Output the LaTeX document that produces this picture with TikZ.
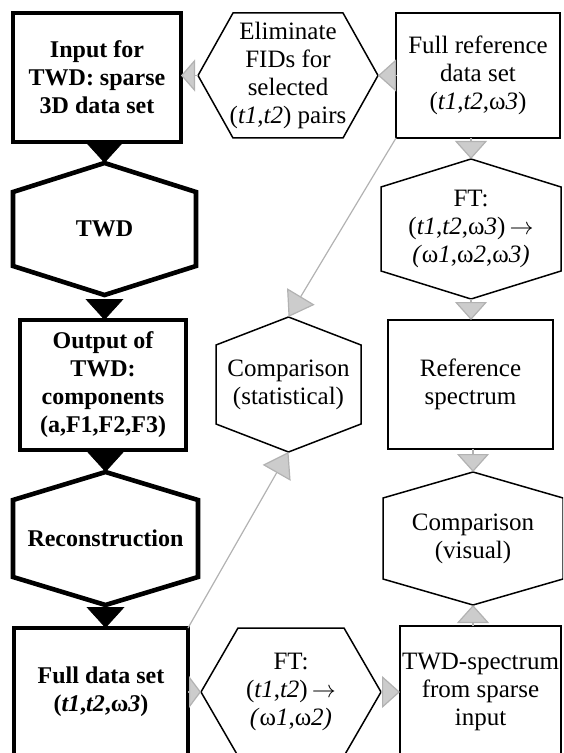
\documentclass[tikz,border=0pt]{standalone}
\usepackage{fontspec}
\setmainfont{Liberation Serif}
\usetikzlibrary{arrows.meta}

\newcommand{\vhex}[3][0.75pt]{\draw[line width=#1] (#2.north) -- ([yshift=-#3]#2.north east) -- ([yshift=#3]#2.south east)
  -- (#2.south) -- ([yshift=#3]#2.south west) -- ([yshift=-#3]#2.north west) -- cycle;}
\newcommand{\hhex}[3][0.75pt]{\draw[line width=#1] (#2.west) -- ([xshift=#3]#2.north west) -- ([xshift=-#3]#2.north east)
  -- (#2.east) -- ([xshift=-#3]#2.south east) -- ([xshift=#3]#2.south west) -- cycle;}

\begin{document}
\begin{tikzpicture}[x=0.5pt,y=-0.5pt,
	base/.style={inner sep=0pt,outer sep=0pt,align=center,font=\fontsize{12.5}{14}\selectfont},
	thinbox/.style={base,draw,line width=0.75pt},
	boldbox/.style={base,draw,line width=2.3pt,font=\fontsize{12}{14}\selectfont\bfseries},
	boldtext/.style={base,font=\fontsize{12}{14}\selectfont\bfseries},
	hextext/.style={base},
	blkarr/.style={-{Triangle[length=10.5pt,width=19pt]},line width=0.4pt,black},
	grayarr/.style={-{Triangle[length=#1,width=16pt,fill=gray!40]},draw=gray!60,line width=0.6pt},
	grayarr/.default=9pt]
	\clip (0,0) rectangle (563,753);
	
	\node[boldbox,minimum width=84pt,minimum height=64.5pt] (inp) at (97,77.5) {Input for\\TWD: sparse\\3D data set};
	\node[boldtext,minimum width=91.5pt,minimum height=66pt] (twd) at (104.5,229) {TWD};
	\node[boldbox,minimum width=83pt,minimum height=65pt] (out) at (103,385) {Output of\\TWD:\\components\\(a,F1,F2,F3)};
	\node[boldtext,minimum width=92.5pt,minimum height=66.5pt] (rec) at (105.5,538.5) {Reconstruction};
	\node[boldbox,minimum width=87pt,minimum height=64pt] (full) at (101,692) {Full data set\\(\textit{t1},\textit{t2},ω\textit{3})};
	
	\node[hextext,minimum width=90pt,minimum height=62.5pt] (elim) at (288,75.5) {Eliminate\\FIDs for\\selected\\(\textit{t1},\textit{t2}) pairs};
	\node[hextext,minimum width=72.5pt,minimum height=67.5pt] (stat) at (288.5,384.5) {Comparison\\(statistical)};
	\node[hextext,minimum width=90pt,minimum height=64pt] (ftb) at (291,692) {FT:\\(\textit{t1},\textit{t2})\,$\rightarrow$\\\textit{(}ω\textit{1},ω\textit{2)}};
	
	\node[thinbox,minimum width=82pt,minimum height=62.5pt] (ref) at (478,75.5) {Full reference\\data set\\(\textit{t1},\textit{t2},ω\textit{3})};
	\node[hextext,minimum width=90pt,minimum height=70pt] (ftt) at (471,229) {FT:\\(\textit{t1},\textit{t2},ω\textit{3})\,$\rightarrow$\\\textit{(}ω\textit{1},ω\textit{2},ω\textit{3)}};
	\node[thinbox,minimum width=82.5pt,minimum height=64.5pt] (spec) at (470.5,384.5) {Reference\\spectrum};
	\node[hextext,minimum width=90pt,minimum height=66.5pt] (vis) at (473,538.5) {Comparison\\(visual)};
	\node[thinbox,minimum width=80.5pt,minimum height=66pt] (twdspec) at (480.5,692) {TWD-spectrum\\from sparse\\input};
	
	\vhex[2.3pt]{twd}{14.5pt}
	\vhex[2.3pt]{rec}{14pt}
	\hhex{elim}{17.5pt}
	\vhex{stat}{14pt}
	\hhex{ftb}{18.5pt}
	\vhex{ftt}{14pt}
	\vhex{vis}{13pt}
	
	\draw[blkarr] (twd.north |- inp.south) -- (twd.north);
	\draw[blkarr] (twd.south |- out.north) ++(0,-21) -- (twd.south |- out.north);
	\draw[blkarr] (rec.north |- out.south) -- (rec.north);
	\draw[blkarr] (rec.south |- full.north) ++(0,-21) -- (rec.south |- full.north);
	
	\draw[grayarr=7pt] (elim.west) -- (elim.west -| inp.east);
	\draw[grayarr] (ref.west) -- (elim.east);
	\draw[grayarr] (ftt.north |- ref.south) -- (ftt.north);
	\draw[grayarr] (ftt.south) -- (ftt.south |- spec.north);
	\draw[grayarr] (vis.north |- spec.south) -- (vis.north);
	\draw[grayarr] (vis.south |- twdspec.north) -- (vis.south);
	\draw[grayarr=12pt] (ref.south west) -- (stat.north);
	\draw[grayarr=12pt] (full.north east) -- (stat.south);
	\draw[grayarr=6pt] (full.east) -- (ftb.west);
	\draw[grayarr] (ftb.east) -- (ftb.east -| twdspec.west);
\end{tikzpicture}
\end{document}
